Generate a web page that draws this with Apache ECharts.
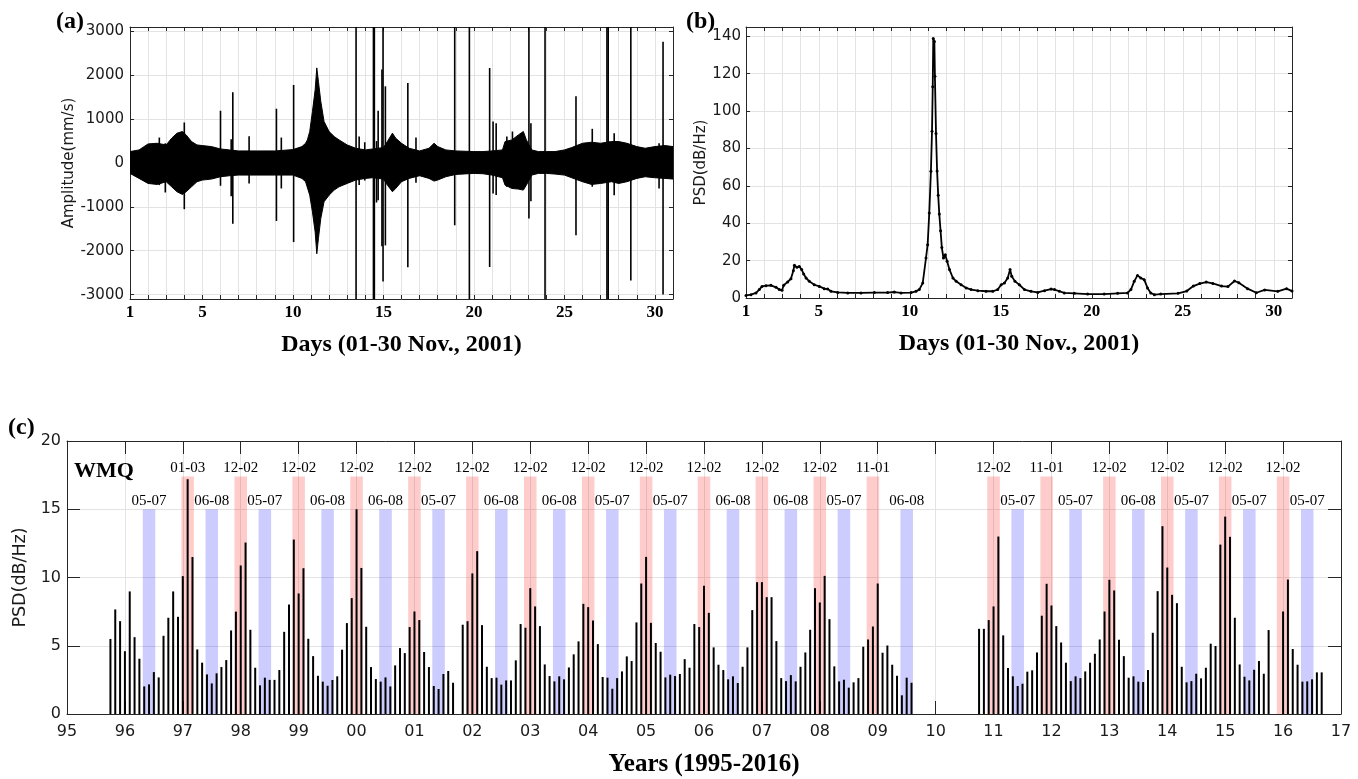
<!DOCTYPE html>
<html><head><meta charset="utf-8">
<script src="https://cdn.jsdelivr.net/npm/echarts@6/dist/echarts.min.js"></script>
<style>html,body{margin:0;padding:0;background:#fff}#chart{width:1358px;height:779px}</style>
</head><body><div id="chart"></div>
<script>
// ---------- Panel (a): waveform envelope (day, upper, lower) ----------
const aDays  = [1.0,1.5,2.0,2.5,3.0,3.3,3.6,3.9,4.1,4.4,4.7,5.0,5.5,6.0,6.5,7.0,8.0,9.0,10.0,10.5,10.7,10.8,10.93,11.08,11.23,11.32,11.41,11.54,11.72,12.0,12.28,12.55,13.0,13.47,14.0,14.4,15.0,15.22,15.5,15.68,16.0,16.42,17.0,17.52,17.8,18.0,18.45,19.0,20.0,20.5,21.0,21.58,21.72,22.1,22.46,22.73,22.9,23.2,23.56,24.0,24.48,25.0,25.4,26.0,26.5,27.0,27.6,28.0,28.45,29.0,29.46,30.0,30.56,31.0];
const aUpper = [260,298,435,450,412,565,680,718,641,489,412,397,374,320,298,275,275,275,305,374,450,527,718,1175,1672,2168,1863,1405,947,718,603,527,412,336,298,320,351,489,680,565,450,336,275,336,450,374,298,275,260,260,275,298,489,527,641,718,527,298,260,260,260,298,351,450,473,450,489,489,450,374,336,374,397,374];
const aLower = [-237,-351,-466,-489,-427,-542,-656,-718,-656,-542,-427,-389,-366,-313,-290,-275,-275,-275,-275,-351,-427,-466,-733,-1115,-1573,-2069,-1725,-1267,-885,-733,-618,-542,-466,-389,-351,-336,-366,-504,-656,-580,-427,-351,-290,-351,-412,-389,-313,-260,-237,-245,-275,-336,-504,-580,-595,-618,-504,-275,-237,-237,-252,-275,-336,-427,-489,-466,-427,-466,-427,-351,-313,-336,-351,-366];
// spikes: day, lowest, highest
const spikeDay  = [2.62,2.95,4.0,6.0,6.59,6.68,7.58,9.09,9.36,10.04,13.49,13.66,13.97,14.45,14.5,14.62,14.71,14.92,14.98,15.11,16.35,16.8,18.94,19.75,20.87,21.06,21.23,21.82,22.13,23.04,23.15,23.93,25.64,26.54,27.35,27.42,27.75,28.67,30.23,30.45];
const spikeLow  = [-504,-672,-1053,-519,-756,-1382,-466,-1321,-580,-1802,-3100,-504,-400,-3100,-3100,-900,-847,-1900,-2700,-1878,-2374,-450,-1420,-3100,-2370,-694,-732,-542,-500,-1267,-870,-3100,-1649,-541,-3100,-3100,-733,-2680,-580,-3000];
const spikeHigh = [580,450,924,1191,542,1611,611,1237,580,1779,3100,603,473,3100,3100,500,1190,2130,3100,1748,1824,580,3100,3100,2165,945,907,603,718,3100,908,3100,1519,779,3100,3100,679,3100,450,2763];

// ---------- Panel (b): PSD curve [day, dB/Hz] ----------
const psdCurve = [[1.0,1.4],[1.27,1.8],[1.55,2.7],[1.73,4.5],[1.88,6.2],[2.1,6.6],[2.37,6.8],[2.65,5.7],[2.83,4.5],[2.98,4.1],[3.07,6.8],[3.29,8.6],[3.47,10.3],[3.6,14.6],[3.66,17.5],[3.8,16.4],[3.93,16.9],[4.06,15.2],[4.17,12.8],[4.3,10.7],[4.48,8.9],[4.75,7.1],[5.03,6.2],[5.3,5.0],[5.49,4.8],[5.67,3.6],[6.04,3.0],[6.59,2.7],[7.32,2.7],[8.05,2.9],[8.78,2.9],[9.15,3.2],[9.52,2.7],[10.07,2.9],[10.34,3.6],[10.52,4.5],[10.71,8.0],[10.89,21.4],[10.98,28.5],[11.07,45.5],[11.16,67.8],[11.22,89.2],[11.26,113],[11.29,138.8],[11.35,137.3],[11.38,118.6],[11.44,88],[11.5,68],[11.56,55],[11.62,45],[11.69,36],[11.76,27],[11.85,21.4],[11.95,23.2],[12.05,19.6],[12.18,15.2],[12.37,10.7],[12.55,8.9],[12.82,7.1],[13.1,5.4],[13.37,4.5],[13.74,3.9],[14.19,3.6],[14.56,3.6],[14.83,4.5],[15.02,7.1],[15.2,8.0],[15.38,10.7],[15.51,15.2],[15.6,11.6],[15.78,8.9],[16.02,7.1],[16.3,4.5],[16.66,3.6],[17.03,3.0],[17.4,3.9],[17.76,4.8],[17.95,4.5],[18.22,3.6],[18.49,2.7],[19.04,2.5],[19.77,2.1],[20.68,2.1],[21.42,2.5],[21.96,2.7],[22.15,4.5],[22.33,8.9],[22.51,12.1],[22.69,10.7],[22.88,9.8],[23.06,5.4],[23.24,2.7],[23.44,1.8],[23.79,2.1],[24.74,2.5],[25.22,3.7],[25.58,6.4],[25.93,7.7],[26.29,8.5],[26.65,7.8],[27.13,6.4],[27.48,6.1],[27.84,9.1],[28.08,8.2],[28.56,5.0],[29.04,2.8],[29.5,4.3],[30.22,3.6],[30.7,5.0],[31.0,3.7]];

// ---------- Panel (c): monthly PSD (dB/Hz) ----------
const seg1Start = [1995, 10];
const seg1 = [5.5,7.66,6.8,
 4.6,8.98,5.63,4.05,2.02,2.17,3.07,2.68,5.73,7.05,8.98,7.12,
 10.1,17.2,11.5,4.73,3.76,2.9,2.24,2.98,3.44,3.95,6.12,7.5,
 10.88,12.56,6.17,3.39,2.1,2.66,2.5,2.5,3.22,6.02,8.02,12.78,
 8.83,10.68,5.51,4.24,2.8,2.37,2.07,2.49,2.76,4.71,6.66,8.49,
 15.0,10.7,6.39,3.44,2.56,2.37,2.68,2.02,3.56,4.83,4.46,6.37,
 7.51,6.88,4.54,3.44,2.05,1.83,2.93,3.15,2.29,null,6.54,6.8,
 10.3,11.93,6.51,3.46,2.63,2.66,2.15,2.46,2.46,3.93,6.59,6.32,
 9.22,7.88,6.44,3.63,2.78,2.39,2.76,2.54,3.41,4.37,5.32,8.07,
 7.83,6.85,5.12,2.71,2.66,1.85,2.63,3.12,4.22,3.88,6.71,9.56,
 11.51,6.68,5.2,4.56,2.68,2.88,2.78,2.93,4.02,3.39,6.59,6.37,
 9.39,7.41,4.88,3.61,3.22,2.54,2.76,2.27,3.46,4.88,7.61,9.66,
 9.66,8.56,8.56,5.34,2.63,2.41,2.85,2.39,3.46,4.51,6.17,9.22,
 8.17,10.12,6.95,3.49,2.39,2.51,1.93,2.32,2.63,4.93,5.46,6.41,
 9.56,4.49,5.02,3.61,2.8,1.37,2.66,2.29];
const seg2Start = [2010, 10];
const seg2 = [6.24,6.24,6.88,
 7.88,13.0,5.76,3.37,2.76,2.05,2.22,3.1,3.2,4.51,7.2,9.54,
 7.95,6.44,5.24,3.76,2.41,2.76,2.63,3.12,3.76,4.41,5.46,7.51,
 9.83,9.05,5.44,4.24,2.66,2.76,2.37,2.34,3.22,5.95,9.0,13.76,
 10.73,8.73,8.12,3.46,2.32,2.41,2.95,2.61,3.39,5.15,4.98,12.41,
 14.46,12.98,7.05,3.63,2.73,2.46,3.24,3.88,2.95,6.15,null,null,
 7.51,9.85,4.76,3.61,2.37,2.39,2.54,3.05,3.05];
// highlighted seasons (year, months label)
const redYears  = [1997,1998,1999,2000,2001,2002,2003,2004,2005,2006,2007,2008,2009,2011,2012,2013,2014,2015,2016];
const redLabels = ['01-03','12-02','12-02','12-02','12-02','12-02','12-02','12-02','12-02','12-02','12-02','12-02','11-01','12-02','11-01','12-02','12-02','12-02','12-02'];
const blueYears  = [1996,1997,1998,1999,2000,2001,2002,2003,2004,2005,2006,2007,2008,2009,2011,2012,2013,2014,2015,2016];
const blueLabels = ['05-07','06-08','05-07','06-08','06-08','05-07','06-08','06-08','05-07','05-07','06-08','06-08','05-07','06-08','05-07','05-07','06-08','05-07','05-07','05-07'];
const redTop = 17.4, blueTop = 15;

// ---------- build ----------
const toAxisYear = (y, m) => (y - 1900) + (m - 1) / 12;
function monthBars(start, vals) {
  const out = [];
  vals.forEach((v, i) => { if (v !== null) out.push([toAxisYear(start[0], start[1]) + i / 12, v]); });
  return out;
}
const barData = monthBars(seg1Start, seg1).concat(monthBars(seg2Start, seg2));
const pad = 0.3 / 12;
function band(year, label, top, color) {
  const [m1, m2] = label.split('-').map(Number);
  const s = toAxisYear(m1 > m2 ? year - 1 : year, m1) - pad;
  const e = toAxisYear(year, m2) + pad;
  return [{name: label, xAxis: s, yAxis: 0, itemStyle: {color: color}}, {xAxis: e, yAxis: top}];
}
const bands = redYears.map((y, i) => band(y, redLabels[i], redTop, 'rgba(255,0,0,0.2)'))
  .concat(blueYears.map((y, i) => band(y, blueLabels[i], blueTop, 'rgba(0,0,255,0.2)')));

const AX = '#262626', GRID = '#e3e3e3';
const serifB = {fontFamily: 'Liberation Serif', fontWeight: 'bold', color: '#000'};
function baseAxis(extra) {
  return Object.assign({
    type: 'value',
    axisLine: {show: true, onZero: false, lineStyle: {color: AX, width: 1}},
    axisTick: {show: true, inside: true, length: 4, lineStyle: {color: AX}},
    splitLine: {show: true, lineStyle: {color: GRID, width: 1}},
  }, extra);
}
function mirror(extra) {
  return baseAxis(Object.assign({axisLabel: {show: false}, splitLine: {show: false}}, extra));
}
const dayFmt = v => (v === 1 || (v % 5 === 0 && v <= 30)) ? String(v) : '';
const dayLabel = Object.assign({formatter: dayFmt, fontSize: 17, margin: 5}, serifB);
const yearFmt = v => String(Math.round(v) % 100).padStart(2, '0');

const option = {
  animation: false,
  backgroundColor: '#fff',
  grid: [
    {left: 130, top: 27, width: 543, height: 272, show: false},
    {left: 746, top: 27, width: 546, height: 271, show: false},
    {left: 67, top: 441, width: 1274, height: 273, show: false}
  ],
  xAxis: [
    baseAxis({gridIndex: 0, min: 1, max: 31, interval: 1, axisLabel: dayLabel,
      name: 'Days (01-30 Nov., 2001)', nameLocation: 'middle', nameGap: 34,
      nameTextStyle: Object.assign({fontSize: 24}, serifB)}),
    mirror({gridIndex: 0, position: 'top', min: 1, max: 31, interval: 1}),
    baseAxis({gridIndex: 1, min: 1, max: 31, interval: 1, axisLabel: dayLabel,
      name: 'Days (01-30 Nov., 2001)', nameLocation: 'middle', nameGap: 34,
      nameTextStyle: Object.assign({fontSize: 24}, serifB)}),
    mirror({gridIndex: 1, position: 'top', min: 1, max: 31, interval: 1}),
    baseAxis({gridIndex: 2, min: 95, max: 117, interval: 1,
      axisTick: {show: true, inside: true, length: 13, lineStyle: {color: AX}},
      axisLabel: {formatter: yearFmt, fontFamily: 'DejaVu Sans', fontSize: 16, color: '#1a1a1a', margin: 10},
      name: 'Years (1995-2016)', nameLocation: 'middle', nameGap: 38,
      nameTextStyle: Object.assign({fontSize: 25}, serifB)}),
    mirror({gridIndex: 2, position: 'top', min: 95, max: 117, interval: 1,
      axisTick: {show: true, inside: true, length: 13, lineStyle: {color: AX}}})
  ],
  yAxis: [
    baseAxis({gridIndex: 0, min: -3100, max: 3100, splitNumber: 6,
      axisLabel: {showMinLabel: false, showMaxLabel: false, formatter: v => String(v),
        fontFamily: 'DejaVu Sans', fontSize: 15, color: '#1a1a1a', margin: 6},
      name: 'Amplitude(mm/s)', nameLocation: 'middle', nameGap: 42,
      nameTextStyle: {fontFamily: 'DejaVu Sans', fontSize: 15, color: '#1a1a1a'}}),
    mirror({gridIndex: 0, position: 'right', min: -3100, max: 3100, splitNumber: 6}),
    baseAxis({gridIndex: 1, min: 0, max: 145, interval: 20,
      axisLabel: {showMaxLabel: false, fontFamily: 'DejaVu Sans', fontSize: 15, color: '#1a1a1a', margin: 5},
      name: 'PSD(dB/Hz)', nameLocation: 'middle', nameGap: 36,
      nameTextStyle: {fontFamily: 'DejaVu Sans', fontSize: 15, color: '#1a1a1a'}}),
    mirror({gridIndex: 1, position: 'right', min: 0, max: 145, interval: 20}),
    baseAxis({gridIndex: 2, min: 0, max: 20, interval: 5,
      axisTick: {show: true, inside: true, length: 13, lineStyle: {color: AX}},
      axisLabel: {fontFamily: 'DejaVu Sans', fontSize: 16, color: '#1a1a1a', margin: 6},
      name: 'PSD(dB/Hz)', nameLocation: 'middle', nameGap: 22,
      nameTextStyle: {fontFamily: 'DejaVu Sans', fontSize: 17.5, color: '#1a1a1a'}}),
    mirror({gridIndex: 2, position: 'right', min: 0, max: 20, interval: 5,
      axisTick: {show: true, inside: true, length: 13, lineStyle: {color: AX}}})
  ],
  series: [
    {type: 'line', xAxisIndex: 0, yAxisIndex: 0, data: aDays.map((d, i) => [d, aUpper[i]]),
      symbol: 'none', lineStyle: {color: '#000', width: 1}, areaStyle: {color: '#000', opacity: 1, origin: 'auto'}, z: 2},
    {type: 'line', xAxisIndex: 0, yAxisIndex: 0, data: aDays.map((d, i) => [d, aLower[i]]),
      symbol: 'none', lineStyle: {color: '#000', width: 1}, areaStyle: {color: '#000', opacity: 1, origin: 'auto'}, z: 2},
    {type: 'custom', xAxisIndex: 0, yAxisIndex: 0, clip: true, z: 3,
      data: spikeDay.map((d, i) => [d, spikeLow[i], spikeHigh[i]]),
      encode: {x: 0, y: [1, 2]},
      renderItem: (params, api) => {
        const p1 = api.coord([api.value(0), api.value(1)]);
        const p2 = api.coord([api.value(0), api.value(2)]);
        return {type: 'line', shape: {x1: p1[0], y1: p1[1], x2: p2[0], y2: p2[1]},
          style: {stroke: '#000', lineWidth: 1.6}};
      }},
    {type: 'line', xAxisIndex: 2, yAxisIndex: 2, data: psdCurve, symbol: 'circle', symbolSize: 3,
      showAllSymbol: true, itemStyle: {color: '#000'}, lineStyle: {color: '#000', width: 1.8}, z: 2},
    {type: 'bar', xAxisIndex: 4, yAxisIndex: 4, data: barData, barWidth: 2,
      itemStyle: {color: '#000'}, z: 2},
    {type: 'line', xAxisIndex: 4, yAxisIndex: 4, data: [], z: 5,
      markArea: {silent: true, data: bands,
        label: {show: true, position: 'top', distance: 1, color: '#000', fontFamily: 'Liberation Serif', fontSize: 15}}}
  ],
  graphic: [
    {type: 'text', x: 56, y: 22, style: {text: '(a)', font: 'bold 24px "Liberation Serif"', fill: '#000', align: 'left', verticalAlign: 'middle'}},
    {type: 'text', x: 686, y: 22, style: {text: '(b)', font: 'bold 24px "Liberation Serif"', fill: '#000', align: 'left', verticalAlign: 'middle'}},
    {type: 'text', x: 8, y: 428, style: {text: '(c)', font: 'bold 24px "Liberation Serif"', fill: '#000', align: 'left', verticalAlign: 'middle'}},
    {type: 'text', x: 74, y: 471, z: 10, style: {text: 'WMQ', font: 'bold 22px "Liberation Serif"', fill: '#000', align: 'left', verticalAlign: 'middle'}}
  ]
};
const chart = echarts.init(document.getElementById('chart'), null, {renderer: 'canvas'});
chart.setOption(option);
</script></body></html>
